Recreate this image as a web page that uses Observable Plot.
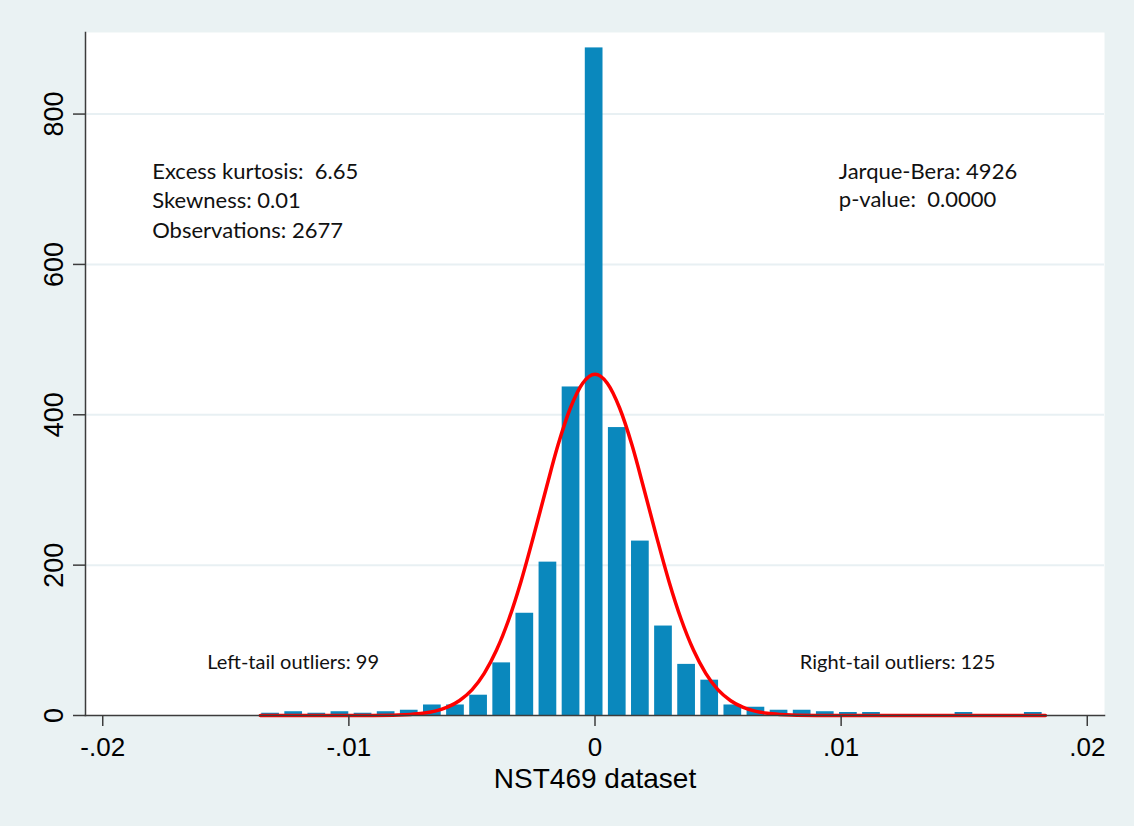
<!DOCTYPE html>
<html>
<head>
<meta charset="utf-8">
<script src="https://cdn.jsdelivr.net/npm/d3@7"></script>
<script src="https://cdn.jsdelivr.net/npm/@observablehq/plot@0.6"></script>
<style>
  html, body { margin: 0; padding: 0; overflow: hidden; background: #eaf2f3; }
  svg text { white-space: pre; }
</style>
</head>
<body>
<div id="chart"></div>
<script>
// ---- Data ----
// Histogram: 34 bins of equal width starting at the sample minimum
const binStart = -0.01365;
const binWidth = 0.000939;
const binCounts = [3,5,3,5,3,5,7,14,14,27,70,136,204,437,888,383,232,119,68,47,14,11,7,7,5,4,4,0,0,0,4,0,0,4];

// Overlaid normal density (frequency scale)
const curveX = [-0.0136,-0.012,-0.010,-0.009,-0.008,-0.0075,-0.007,-0.0065,-0.006,-0.0055,-0.005,-0.0045,-0.004,-0.0035,-0.003,-0.0025,-0.002,-0.0015,-0.001,-0.0005,0,
                0.0005,0.001,0.0015,0.002,0.0025,0.003,0.0035,0.004,0.0045,0.005,0.0055,0.006,0.0065,0.007,0.0075,0.008,0.009,0.010,0.012,0.015,0.0183];
const curveY = [0,0,0,0.1,0.6,1.4,2.9,5.8,11,20,34,56,87,128,179,238,300,360,409,442,454,
                442,409,360,300,238,179,128,87,56,34,20,11,5.8,2.9,1.4,0.6,0.1,0,0,0,0];

const xTicks = [-0.02, -0.01, 0, 0.01, 0.02];
const xTickLabels = ["-.02", "-.01", "0", ".01", ".02"];
const yTicks = [0, 200, 400, 600, 800];
const yTickLabels = ["0", "200", "400", "600", "800"];

const xTitle = "NST469 dataset";
const statsLeft = ["Excess kurtosis:  6.65", "Skewness: 0.01", "Observations: 2677"];
const statsRight = ["Jarque-Bera: 4926", "p-value:  0.0000"];
const tailLeft = "Left-tail outliers: 99";
const tailRight = "Right-tail outliers: 125";

// ---- Derived tables ----
const bins = binCounts.map((c, i) => ({x1: binStart + i * binWidth, x2: binStart + (i + 1) * binWidth, count: c}));
const curve = curveX.map((x, i) => ({x, y: curveY[i]}));
const xLabelMap = new Map(xTicks.map((t, i) => [t, xTickLabels[i]]));

const axisFont = "'Liberation Sans', Arial, Helvetica, sans-serif";
const noteFont = "Lato, 'Open Sans', 'Noto Sans', sans-serif";
const axisColor = "#3c3c3c";

const chart = Plot.plot({
  width: 1134,
  height: 826,
  marginLeft: 85,
  marginRight: 30,
  marginTop: 32,
  marginBottom: 111,
  style: {background: "#eaf2f3", fontFamily: axisFont, color: "#000"},
  x: {domain: [-0.0207, 0.0207]},
  y: {domain: [0, 908.5]},
  marks: [
    Plot.frame({fill: "white", stroke: null}),
    Plot.gridY(yTicks.slice(1), {stroke: "#e8f0f3", strokeOpacity: 1, strokeWidth: 2}),
    Plot.rectY(bins, {x1: "x1", x2: "x2", y: "count", fill: "#0a88bd", insetLeft: 2.7, insetRight: 2.7}),
    Plot.line(curve, {x: "x", y: "y", stroke: "#ff0000", strokeWidth: 3.5, curve: "monotone-x"}),
    Plot.frame({anchor: "left", stroke: axisColor, strokeWidth: 1.5}),
    Plot.frame({anchor: "bottom", stroke: axisColor, strokeWidth: 1.5}),
    Plot.axisX({ticks: xTicks, tickSize: 11, tickPadding: 11, stroke: axisColor, strokeWidth: 1.5,
      tickFormat: d => xLabelMap.get(d), fontSize: 26, fontFamily: axisFont, fill: "#000", label: null}),
    Plot.axisY({ticks: yTicks, tickSize: 12, stroke: axisColor, strokeWidth: 1.5, tickFormat: () => "", label: null}),
    Plot.text(yTicks, {y: d => d, text: (d, i) => yTickLabels[i], frameAnchor: "left", dx: -23, rotate: -90,
      textAnchor: "middle", lineAnchor: "bottom", fontSize: 27, fontFamily: axisFont, fill: "#000"}),
    Plot.text([xTitle], {text: d => d, frameAnchor: "bottom", dy: 72, lineAnchor: "bottom",
      fontSize: 28, fontFamily: axisFont, fill: "#000"}),
    Plot.text([statsLeft.join("\n")], {text: d => d, frameAnchor: "top-left", dx: 66.7, dy: 125,
      textAnchor: "start", lineAnchor: "top", lineHeight: 1.35, fontSize: 22, fontFamily: noteFont, fill: "#111"}),
    Plot.text([statsRight.join("\n")], {text: d => d, frameAnchor: "top-left", dx: 753.3, dy: 126,
      textAnchor: "start", lineAnchor: "top", lineHeight: 1.3, fontSize: 22, fontFamily: noteFont, fill: "#111"}),
    Plot.text([tailLeft], {text: d => d, frameAnchor: "bottom-left", dx: 121.7, dy: -46.4,
      textAnchor: "start", lineAnchor: "bottom", fontSize: 20, fontFamily: noteFont, fill: "#111"}),
    Plot.text([tailRight], {text: d => d, frameAnchor: "bottom-left", dx: 714.3, dy: -47,
      textAnchor: "start", lineAnchor: "bottom", fontSize: 20, fontFamily: noteFont, fill: "#111"})
  ]
});
document.getElementById("chart").appendChild(chart);
</script>
</body>
</html>
